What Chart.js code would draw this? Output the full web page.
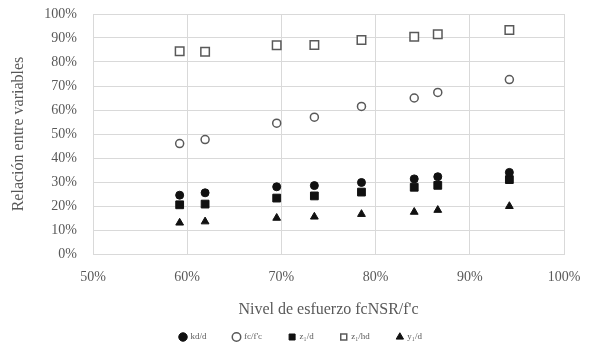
<!DOCTYPE html>
<html>
<head>
<meta charset="utf-8">
<script src="https://cdn.jsdelivr.net/npm/chart.js@4.4.0/dist/chart.umd.min.js"></script>
<style>
  html, body { margin: 0; padding: 0; background: #fff; }
  #wrap { width: 589px; height: 349px; }
</style>
</head>
<body>
<div id="wrap"><canvas id="chart" width="589" height="349"></canvas></div>
<script>
// niveles de esfuerzo (eje x, en %)
const nivel = [59.2, 61.9, 69.5, 73.5, 78.5, 84.1, 86.6, 94.2];

// series (en %)
const kdD  = [24.5, 25.5, 28.0, 28.5, 29.8, 31.3, 32.2, 34.0];
const fcFc = [46.0, 47.7, 54.5, 57.0, 61.5, 65.0, 67.3, 72.7];
const z1D  = [20.5, 20.8, 23.3, 24.2, 25.8, 27.8, 28.6, 31.0];
const z1Hd = [84.5, 84.3, 87.0, 87.1, 89.2, 90.5, 91.6, 93.3];
const y1D  = [13.0, 13.5, 15.0, 15.5, 16.6, 17.5, 18.3, 19.9];

const etiquetas = ["kd/d", "fc/f'c", "z\u2081/d", "z\u2081/hd", "y\u2081/d"];

const gris = "#595959";
const puntos = arr => arr.map((v, i) => ({ x: nivel[i], y: v }));

const data = {
    datasets: [
        { label: etiquetas[0], data: puntos(kdD), pointStyle: "circle", pointRadius: 4,
          backgroundColor: "#111", borderColor: "#111", borderWidth: 1 },
        { label: etiquetas[1], data: puntos(fcFc), pointStyle: "circle", pointRadius: 4,
          backgroundColor: "#fff", borderColor: gris, borderWidth: 1.5 },
        { label: etiquetas[2], data: puntos(z1D), pointStyle: "rect", pointRadius: 5.5,
          backgroundColor: "#111", borderColor: "#111", borderWidth: 1 },
        { label: etiquetas[3], data: puntos(z1Hd), pointStyle: "rect", pointRadius: 6,
          backgroundColor: "#fff", borderColor: gris, borderWidth: 1.5 },
        { label: etiquetas[4], data: puntos(y1D), pointStyle: "triangle", pointRadius: 4.5,
          backgroundColor: "#111", borderColor: "#111", borderWidth: 1 }
    ]
};

const fuente = "'Liberation Serif', 'DejaVu Serif', serif";

new Chart(document.getElementById("chart"), {
    type: "scatter",
    data: data,
    options: {
        responsive: false,
        animation: false,
        layout: {
            autoPadding: false,
            // izquierda 38 para centrar la leyenda como en el original
            padding: { left: 38, right: 25, top: 14, bottom: -2.5 }
        },
        plugins: {
            tooltip: { enabled: false },
            legend: {
                position: "bottom",
                labels: {
                    usePointStyle: true,
                    boxWidth: 6,
                    boxHeight: 6,
                    padding: 27,
                    color: gris,
                    font: { family: fuente, size: 9 }
                }
            }
        },
        scales: {
            x: {
                type: "linear",
                min: 50, max: 100,
                ticks: {
                    stepSize: 10,
                    padding: 15,
                    color: gris,
                    font: { family: fuente, size: 14 },
                    callback: v => v + "%"
                },
                grid: { color: "#d9d9d9", drawTicks: false },
                border: { color: "#d9d9d9" },
                title: {
                    display: true,
                    text: "Nivel de esfuerzo fcNSR/f'c",
                    color: gris,
                    font: { family: fuente, size: 16 },
                    padding: { top: 0, bottom: -13.5 }
                },
                afterFit: scale => {
                    scale.height = 51.5;
                    scale.paddingLeft = 0;
                    scale.paddingRight = 0;
                }
            },
            y: {
                min: 0, max: 100,
                ticks: {
                    stepSize: 10,
                    padding: 16,
                    color: gris,
                    font: { family: fuente, size: 14 },
                    callback: v => v + "%"
                },
                grid: { color: "#d9d9d9", drawTicks: false },
                border: { color: "#d9d9d9" },
                title: {
                    display: true,
                    text: "Relación entre variables",
                    color: gris,
                    font: { family: fuente, size: 16 },
                    padding: { top: -29, bottom: 4 }
                },
                afterFit: scale => {
                    scale.width = 55;
                    scale.paddingTop = 0;
                    scale.paddingBottom = 0;
                }
            }
        }
    }
});
</script>
</body>
</html>
